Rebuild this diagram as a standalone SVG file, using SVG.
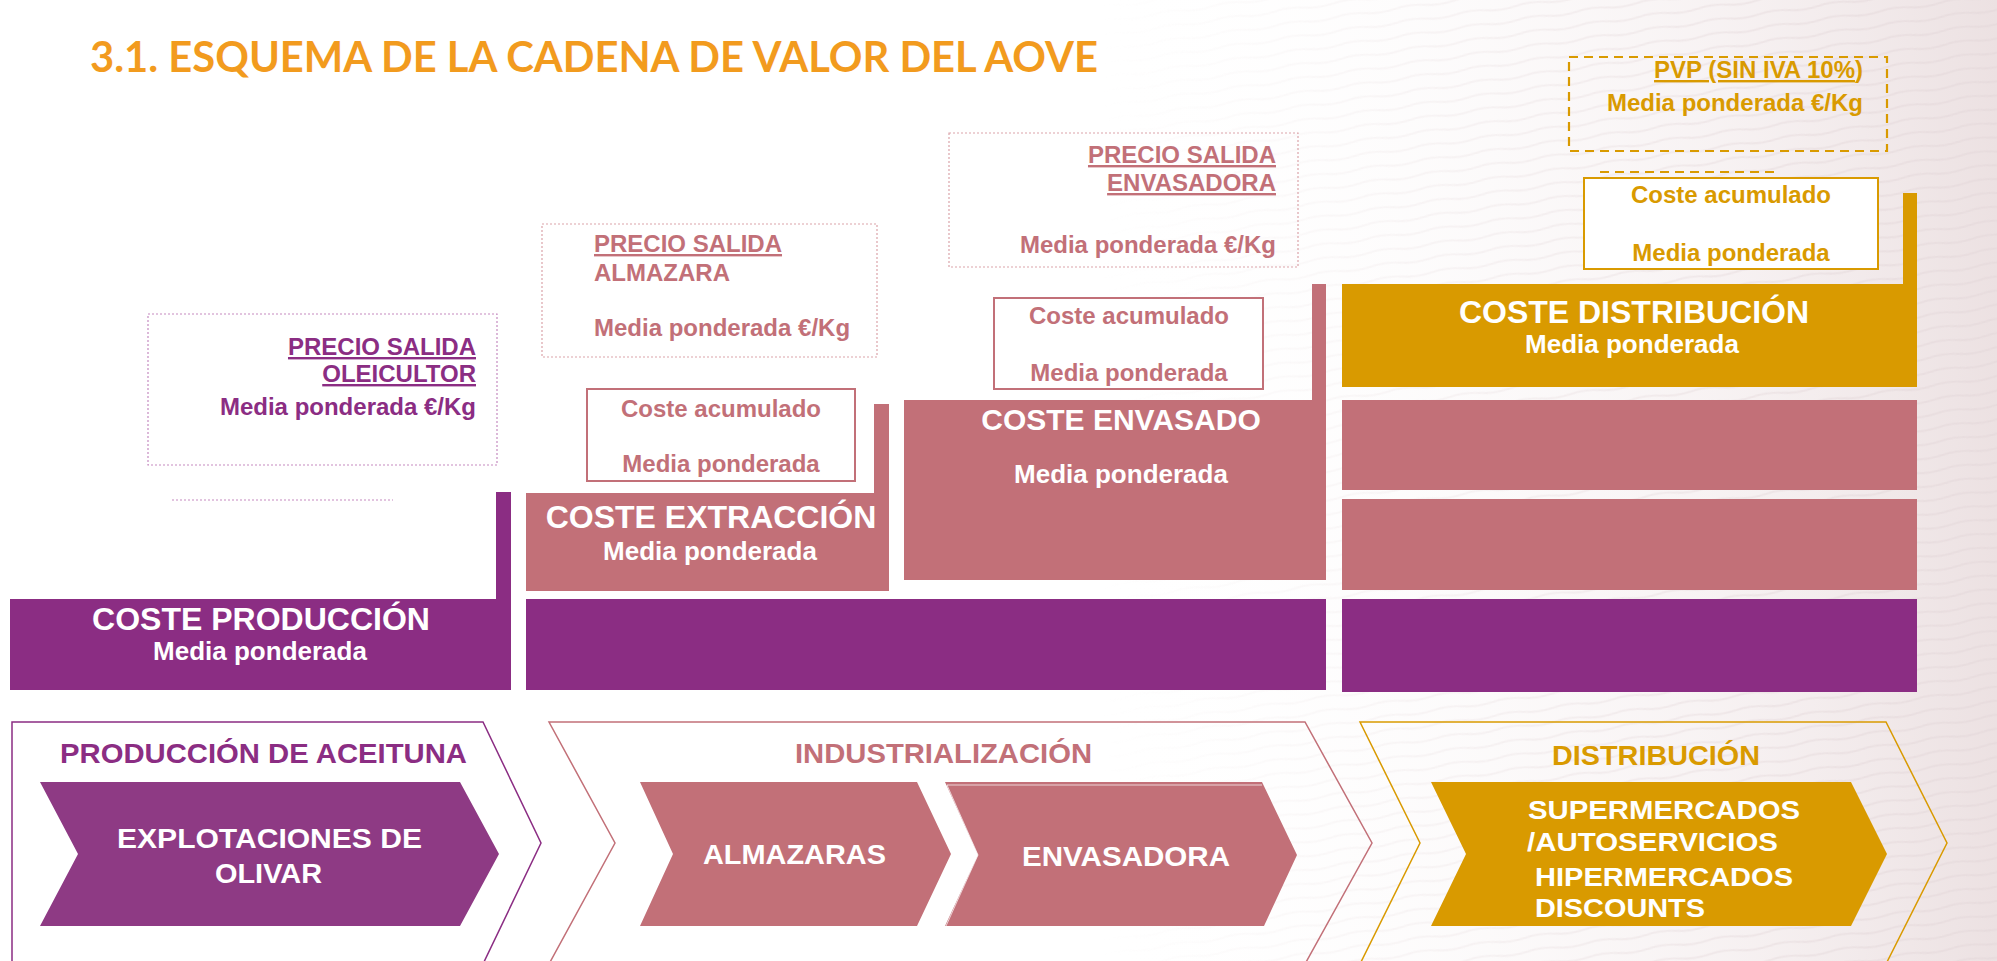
<svg xmlns="http://www.w3.org/2000/svg" width="1997" height="961" viewBox="0 0 1997 961">
  <defs>
    <linearGradient id="bgGrad" x1="0" y1="0" x2="1" y2="0">
      <stop offset="0" stop-color="#ffffff" stop-opacity="0"/>
      <stop offset="0.55" stop-color="#ffffff" stop-opacity="0"/>
      <stop offset="0.85" stop-color="#f3ebec" stop-opacity="0.6"/>
      <stop offset="1" stop-color="#ece1e2" stop-opacity="1"/>
    </linearGradient>
    <pattern id="waves" width="60" height="14" patternUnits="userSpaceOnUse" patternTransform="rotate(-8)">
      <path d="M0 7 Q15 4 30 7 T60 7" fill="none" stroke="#e4d8da" stroke-width="2"/>
    </pattern>
    <linearGradient id="waveMaskGrad" x1="0" y1="0" x2="1" y2="0">
      <stop offset="0.55" stop-color="#fff" stop-opacity="0"/>
      <stop offset="1" stop-color="#fff" stop-opacity="1"/>
    </linearGradient>
    <mask id="waveMask">
      <rect x="0" y="0" width="1997" height="961" fill="url(#waveMaskGrad)"/>
    </mask>
  </defs>
  <style>
    text { font-family: "Liberation Sans", Arial, sans-serif; font-weight: bold; }
    .title { font-family: Lato, "Open Sans", sans-serif; font-weight: 700; font-size: 42px; fill: #F29B1E; }
    .purpleFill { fill: #8B2D83; }
    .pinkFill { fill: #C27078; }
    .goldFill { fill: #D99A00; }
    .chevPurple { fill: #8E3A84; }
    .white { fill: #ffffff; }
    .big { font-size: 32px; }
    .mid { font-size: 26px; }
    .sm { font-size: 24px; }
    .sec { font-size: 28px; }
    .lab { font-size: 28px; }
    .lab2 { font-size: 27px; }
    .dist { font-size: 26.5px; }
    .tPurple { fill: #8B2D83; }
    .tPink { fill: #C27078; }
    .tGold { fill: #D99A00; }
    .ul { text-decoration: underline; }
    .dotPurple { fill: none; stroke: #C58AC0; stroke-width: 1.2; stroke-dasharray: 2 2; }
    .dotPink { fill: none; stroke: #DBA3A9; stroke-width: 1.2; stroke-dasharray: 2 2; }
    .dashGold { fill: none; stroke: #D99A00; stroke-width: 2.2; stroke-dasharray: 9 6; }
    .accPink { fill: #ffffff; stroke: #C27078; stroke-width: 2; }
    .accGold { fill: #ffffff; stroke: #D99A00; stroke-width: 2; }
    .outer { fill: none; stroke-width: 1.5; }
  </style>

  <!-- background -->
  <rect x="0" y="0" width="1997" height="961" fill="#ffffff"/>
  <rect x="0" y="0" width="1997" height="961" fill="url(#bgGrad)"/>
  <rect x="0" y="0" width="1997" height="961" fill="url(#waves)" mask="url(#waveMask)" opacity="0.6"/>

  <!-- title -->
  <g id="title">
    <text class="title" x="90" y="72" textLength="1008" lengthAdjust="spacingAndGlyphs">3.1. ESQUEMA DE LA CADENA DE VALOR DEL AOVE</text>
  </g>

  <!-- guide lines -->
  <g id="connectors">
    <line x1="172" y1="500" x2="393" y2="500" class="dotPurple"/>
    <line x1="1600" y1="172" x2="1778" y2="172" class="dashGold"/>
  </g>

  <!-- price boxes -->
  <g id="precio-oleicultor">
    <rect x="148" y="314" width="349" height="151" class="dotPurple"/>
    <text class="sm tPurple" text-anchor="end" x="476" y="355"><tspan class="ul">PRECIO SALIDA</tspan></text>
    <text class="sm tPurple" text-anchor="end" x="476" y="382"><tspan class="ul">OLEICULTOR</tspan></text>
    <text class="sm tPurple" text-anchor="end" x="476" y="415">Media ponderada €/Kg</text>
  </g>
  <g id="precio-almazara">
    <rect x="542" y="224" width="335" height="133" class="dotPink"/>
    <text class="sm tPink" x="594" y="252"><tspan class="ul">PRECIO SALIDA</tspan></text>
    <text class="sm tPink" x="594" y="281">ALMAZARA</text>
    <text class="sm tPink" x="594" y="336">Media ponderada €/Kg</text>
  </g>
  <g id="precio-envasadora">
    <rect x="949" y="133" width="349" height="134" class="dotPink"/>
    <text class="sm tPink" text-anchor="end" x="1276" y="163"><tspan class="ul">PRECIO SALIDA</tspan></text>
    <text class="sm tPink" text-anchor="end" x="1276" y="191"><tspan class="ul">ENVASADORA</tspan></text>
    <text class="sm tPink" text-anchor="end" x="1276" y="253">Media ponderada €/Kg</text>
  </g>
  <g id="pvp">
    <rect x="1569" y="57" width="318" height="94" class="dashGold"/>
    <text class="sm tGold" text-anchor="end" x="1863" y="78"><tspan class="ul">PVP (SIN IVA 10%</tspan>)</text>
    <text class="sm tGold" text-anchor="end" x="1863" y="111">Media ponderada €/Kg</text>
  </g>

  <!-- accumulated cost boxes -->
  <g id="acum-almazara">
    <rect x="587" y="389" width="268" height="92" class="accPink"/>
    <text class="sm tPink" text-anchor="middle" x="721" y="417">Coste acumulado</text>
    <text class="sm tPink" text-anchor="middle" x="721" y="472">Media ponderada</text>
  </g>
  <g id="acum-envasadora">
    <rect x="994" y="298" width="269" height="91" class="accPink"/>
    <text class="sm tPink" text-anchor="middle" x="1129" y="324">Coste acumulado</text>
    <text class="sm tPink" text-anchor="middle" x="1129" y="381">Media ponderada</text>
  </g>
  <g id="acum-distribucion">
    <rect x="1584" y="178" width="294" height="91" class="accGold"/>
    <text class="sm tGold" text-anchor="middle" x="1731" y="203">Coste acumulado</text>
    <text class="sm tGold" text-anchor="middle" x="1731" y="261">Media ponderada</text>
  </g>

  <!-- cost bars -->
  <g id="coste-produccion">
    <polygon class="purpleFill" points="10,599 496,599 496,492 511,492 511,690 10,690"/>
    <text class="big white" text-anchor="middle" x="261" y="630">COSTE PRODUCCIÓN</text>
    <text class="mid white" text-anchor="middle" x="260" y="660">Media ponderada</text>
  </g>
  <g id="coste-extraccion">
    <polygon class="pinkFill" points="526,493 874,493 874,404 889,404 889,591 526,591"/>
    <text class="big white" text-anchor="middle" x="711" y="528">COSTE EXTRACCIÓN</text>
    <text class="mid white" text-anchor="middle" x="710" y="560">Media ponderada</text>
  </g>
  <g id="produccion-acumulada-industria">
    <rect class="purpleFill" x="526" y="599" width="800" height="91"/>
  </g>
  <g id="coste-envasado">
    <polygon class="pinkFill" points="904,400 1312,400 1312,284 1326,284 1326,580 904,580"/>
    <text class="white" style="font-size:30px" text-anchor="middle" x="1121" y="430">COSTE ENVASADO</text>
    <text class="mid white" text-anchor="middle" x="1121" y="483">Media ponderada</text>
  </g>
  <g id="coste-distribucion">
    <polygon class="goldFill" points="1342,284 1903,284 1903,193 1917,193 1917,387 1342,387"/>
    <text class="big white" text-anchor="middle" x="1634" y="323">COSTE DISTRIBUCIÓN</text>
    <text class="mid white" text-anchor="middle" x="1632" y="353">Media ponderada</text>
  </g>
  <g id="distribucion-envasado">
    <rect class="pinkFill" x="1342" y="400" width="575" height="90"/>
  </g>
  <g id="distribucion-extraccion">
    <rect class="pinkFill" x="1342" y="499" width="575" height="91"/>
  </g>
  <g id="distribucion-produccion">
    <rect class="purpleFill" x="1342" y="599" width="575" height="93"/>
  </g>

  <!-- value chain stages -->
  <g id="etapa-produccion">
    <polygon class="outer" stroke="#8B2D83" points="12,722 483,722 541,843 483,964 12,964"/>
    <text class="sec tPurple" x="60" y="763" textLength="407" lengthAdjust="spacingAndGlyphs">PRODUCCIÓN DE ACEITUNA</text>
  </g>
  <g id="explotaciones">
    <polygon class="chevPurple" points="40,782 460,782 499,854 460,926 40,926 78,854"/>
    <text class="lab2 white" x="117" y="848" textLength="305" lengthAdjust="spacingAndGlyphs">EXPLOTACIONES DE</text>
    <text class="lab2 white" x="215" y="883" textLength="107" lengthAdjust="spacingAndGlyphs">OLIVAR</text>
  </g>

  <g id="etapa-industrializacion">
    <polygon class="outer" stroke="#C27078" points="549,722 1305,722 1372,843 1305,964 549,964 615,843"/>
    <text class="sec tPink" x="795" y="763" textLength="297" lengthAdjust="spacingAndGlyphs">INDUSTRIALIZACIÓN</text>
  </g>
  <g id="almazaras">
    <polygon class="pinkFill" points="640,782 917,782 951,854 917,926 640,926 673,854"/>
    <text class="lab white" x="703" y="864" textLength="183" lengthAdjust="spacingAndGlyphs">ALMAZARAS</text>
  </g>
  <g id="envasadora">
    <polygon class="pinkFill" points="945,782 1262,782 1297,855 1264,926 945,926 978,855"/>
    <polyline points="946,926 978,855 947,785 1262,785" fill="none" stroke="#ffffff" stroke-width="1" opacity="0.7"/>
    <text class="lab white" x="1022" y="866" textLength="208" lengthAdjust="spacingAndGlyphs">ENVASADORA</text>
  </g>

  <g id="etapa-distribucion">
    <polygon class="outer" stroke="#D99A00" points="1360,722 1886,722 1947,843 1886,964 1360,964 1420,843"/>
    <text class="sec tGold" x="1552" y="765" textLength="208" lengthAdjust="spacingAndGlyphs">DISTRIBUCIÓN</text>
  </g>
  <g id="canales">
    <polygon class="goldFill" points="1431,782 1851,782 1887,854 1851,926 1431,926 1466,854"/>
    <text class="dist white" x="1528" y="819" textLength="272" lengthAdjust="spacingAndGlyphs">SUPERMERCADOS</text>
    <text class="dist white" x="1527" y="851" textLength="251" lengthAdjust="spacingAndGlyphs">/AUTOSERVICIOS</text>
    <text class="dist white" x="1535" y="886" textLength="258" lengthAdjust="spacingAndGlyphs">HIPERMERCADOS</text>
    <text class="dist white" x="1535" y="917" textLength="170" lengthAdjust="spacingAndGlyphs">DISCOUNTS</text>
  </g>
</svg>
